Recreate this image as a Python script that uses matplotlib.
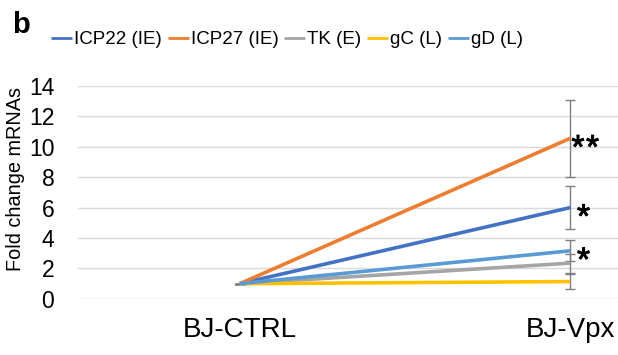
import matplotlib.pyplot as plt
import matplotlib.patheffects as pe

plt.rcParams['font.family'] = ['Liberation Sans', 'DejaVu Sans']

# data
conditions = ['BJ-CTRL', 'BJ-Vpx']
genes = ['ICP22 (IE)', 'ICP27 (IE)', 'TK (E)', 'gC (L)', 'gD (L)']
fold_ctrl = [1.0, 1.0, 1.0, 1.0, 1.0]
fold_vpx = [6.0, 10.55, 2.35, 1.14, 3.16]
err_vpx = [1.4, 2.55, 0.62, 0.5, 0.68]
stars = ['*', '**', '', '', '*']
colors = ['#4472C4', '#ED7D31', '#A5A5A5', '#FFC000', '#5B9BD5']

fig = plt.figure(figsize=(6.18, 3.55), dpi=100)
ax = fig.add_axes([0.126, 0.158, 0.874, 0.6])

x = range(len(conditions))
for i, g in enumerate(genes):
    ys = [fold_ctrl[i], fold_vpx[i]]
    ax.plot(x, ys, color=colors[i], lw=2.6, label=g, solid_capstyle='butt', zorder=3)
    ax.errorbar(x, ys, yerr=[0, err_vpx[i]], fmt='none', ecolor='#7F7F7F',
                elinewidth=1.0, capsize=3.5, capthick=1.0, zorder=2)
    if stars[i]:
        # draw each star on its own so they keep a small gap
        for k in range(len(stars[i])):
            dx = (1 if len(stars[i]) > 1 else 5) + 10.5 * k
            ax.annotate('*', (1, fold_vpx[i]), xytext=(dx, -8), textcoords='offset points',
                        ha='left', va='center', fontsize=24, color='black',
                        path_effects=[pe.withStroke(linewidth=0.7, foreground='black')])

ax.set_xlim(-0.49, 1.145)
ax.set_ylim(0, 14)
ax.set_yticks(range(0, 15, 2))
ax.set_xticks(list(x))
ax.set_xticklabels(conditions, fontsize=20)
ax.tick_params(axis='y', labelsize=16.5, length=0, pad=17)
ax.tick_params(axis='x', length=0, pad=13)
ax.yaxis.grid(True, color='#D9D9D9', lw=1.0)
ax.set_axisbelow(True)
for s in ax.spines.values():
    s.set_visible(False)

fig.text(0.025, 0.497, 'Fold change mRNAs', rotation=90, ha='center', va='center', fontsize=14.3)
fig.text(0.02, 0.93, 'b', fontsize=21, fontweight='bold', ha='left', va='center')

ax.legend(loc='center left', ncol=5, frameon=False, fontsize=13.5, handlelength=1.13,
          handletextpad=0.1, columnspacing=0.3, borderaxespad=0, borderpad=0)
leg = ax.get_legend()
leg.set_bbox_to_anchor((0.083, 0.888), transform=fig.transFigure)
for h in leg.get_lines():
    h.set_linewidth(2.0)

fig.savefig('out.png', dpi=100)
